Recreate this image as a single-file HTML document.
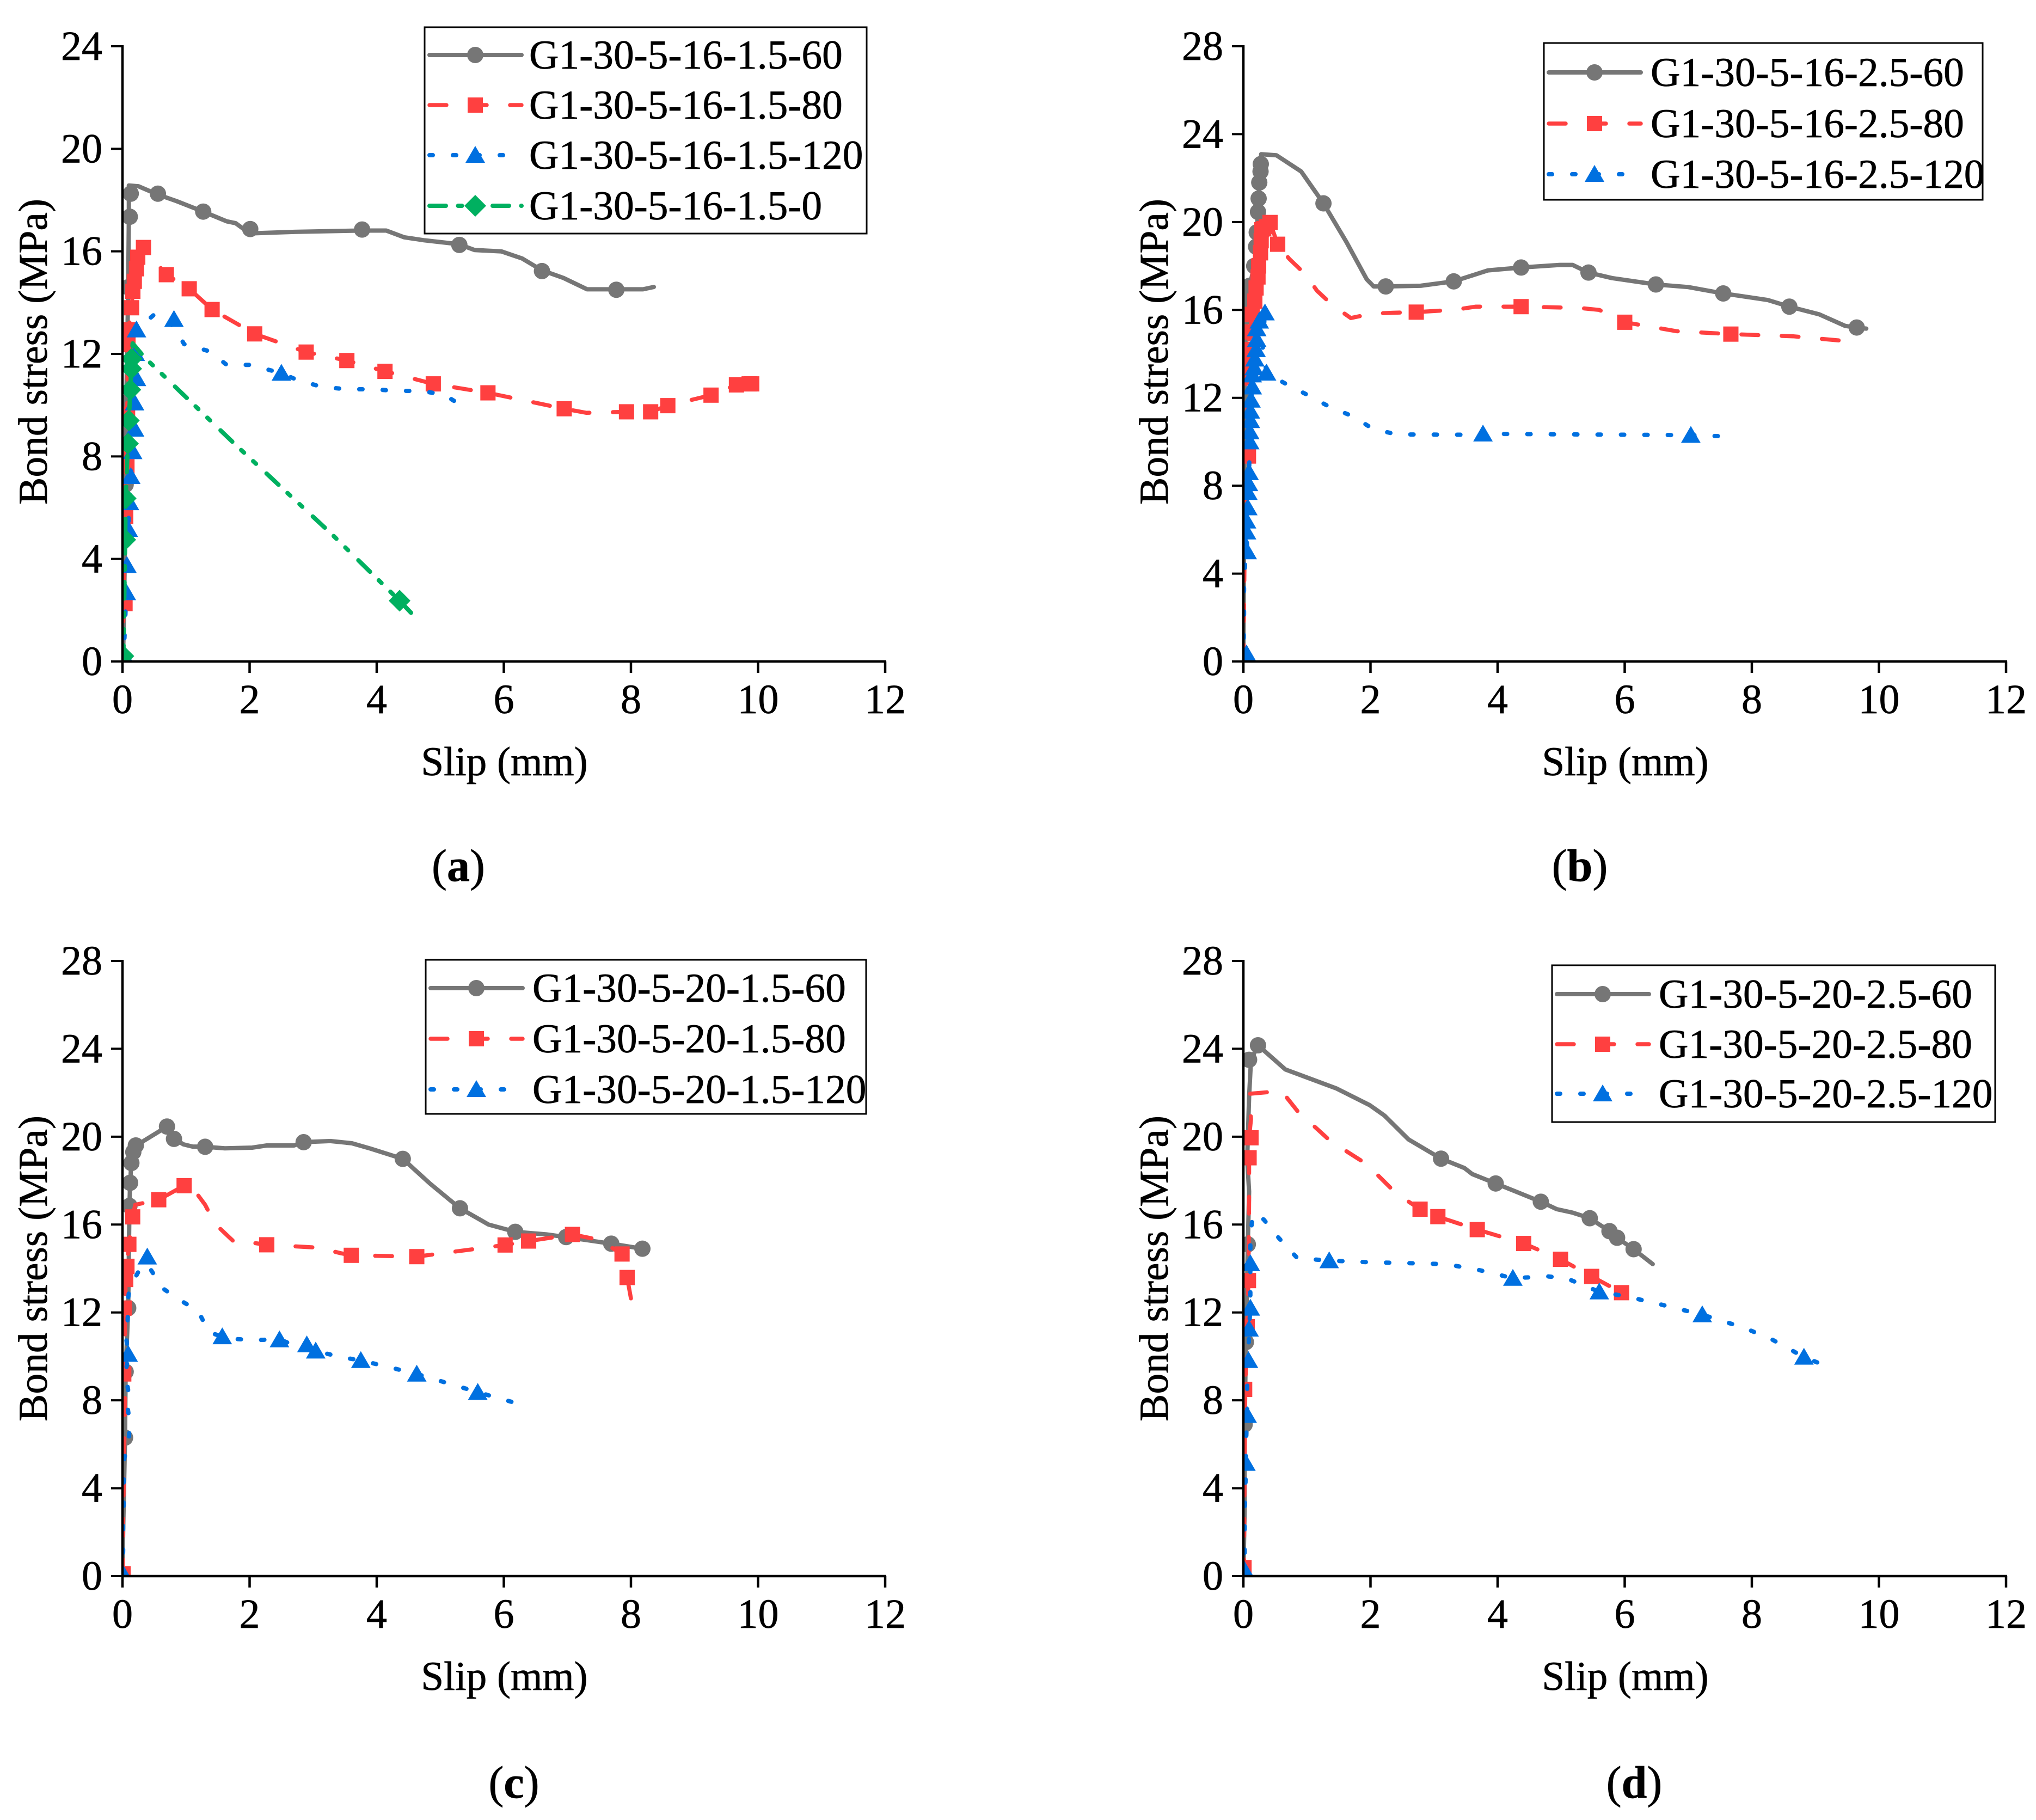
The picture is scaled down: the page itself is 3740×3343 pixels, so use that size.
<!DOCTYPE html>
<html lang="en">
<head>
<meta charset="utf-8">
<title>Bond stress versus slip curves</title>
<style>
html,body{margin:0;padding:0;background:#fff;}
body{width:3740px;height:3343px;overflow:hidden;}
svg{display:block;font-family:"Liberation Serif",serif;fill:#000;}
svg text{stroke:#000;stroke-width:0.7px;}
</style>
</head>
<body>
<svg id="figure" xmlns="http://www.w3.org/2000/svg" width="3740" height="3343" viewBox="0 0 3740 3343"></svg>
<script>
// ---------- tick labels ----------
const slipTicks = [0, 2, 4, 6, 8, 10, 12];
const stressTicksA = [0, 4, 8, 12, 16, 20, 24];
const stressTicksB = [0, 4, 8, 12, 16, 20, 24, 28];

// ---------- panel (a) ----------
const aGrayLineX = [0,0.01,0.03,0.05,0.06,0.09,0.1,0.1,0.25,0.55,0.85,1.27,1.64,1.78,2,2.71,3.75,4.15,4.43,4.75,5.29,5.54,5.96,6.29,6.6,6.94,7.31,7.77,8.19,8.36];
const aGrayLineY = [0,0.2,3,6.9,10.1,14.6,17.35,18.57,18.54,18.22,17.96,17.55,17.17,17.1,16.7,16.76,16.81,16.81,16.55,16.43,16.28,16.05,16,15.72,15.26,14.96,14.52,14.52,14.52,14.61];
const aGrayMarkX = [0.05,0.06,0.09,0.115,0.13,0.557,1.27,2.01,3.77,5.3,6.6,7.77];
const aGrayMarkY = [6.9,10.1,14.6,17.35,18.25,18.25,17.55,16.87,16.85,16.25,15.23,14.5];

const aRedLineX = [0,0.02,0.04,0.05,0.07,0.086,0.094,0.143,0.163,0.186,0.22,0.24,0.33,0.69,1.05,1.41,2.08,2.89,3.53,4.13,4.89,5.75,6.95,7.3,7.93,8.31,8.58,9.26,9.66,9.86,9.95];
const aRedLineY = [0,2.26,5.66,7.6,9.65,12.36,12.94,13.8,14.44,14.83,15.32,15.77,16.15,15.09,14.54,13.73,12.78,12.07,11.74,11.32,10.83,10.48,9.86,9.7,9.74,9.74,9.98,10.39,10.79,10.83,10.8];
const aRedMarkX = [0.04,0.05,0.07,0.08,0.086,0.094,0.143,0.163,0.186,0.22,0.24,0.33,0.69,1.05,1.41,2.08,2.89,3.53,4.13,4.89,5.75,6.95,7.93,8.31,8.58,9.26,9.66,9.86,9.9];
const aRedMarkY = [2.26,5.66,7.6,9.65,12.36,12.94,13.8,14.44,14.83,15.32,15.77,16.15,15.09,14.54,13.73,12.78,12.07,11.74,11.32,10.83,10.48,9.86,9.74,9.74,9.98,10.39,10.79,10.83,10.83];

const aBlueLineX = [0,0.02,0.06,0.07,0.09,0.11,0.13,0.16,0.19,0.19,0.22,0.2,0.22,0.53,0.81,0.97,1.37,1.64,2,2.5,2.76,3.13,3.52,3.92,4.31,4.7,5.05,5.42];
const aBlueLineY = [0,0.23,2.69,3.75,5.16,6.2,7.22,8.19,9.07,10.09,11.04,12.02,12.94,13.6,13.05,12.38,12.1,11.57,11.57,11.25,10.97,10.72,10.62,10.62,10.56,10.55,10.42,9.86];
const aBlueMarkX = [0.02,0.06,0.07,0.09,0.11,0.13,0.16,0.19,0.19,0.22,0.2,0.22,0.81,2.5];
const aBlueMarkY = [0.23,2.69,3.75,5.16,6.2,7.22,8.19,9.07,10.09,11.04,12.02,12.94,13.35,11.25];

const aGreenLineX = [0,0.014,0.043,0.05,0.086,0.1,0.123,0.137,0.143,0.16,0.34,1.78,3.27,4.36,4.54];
const aGreenLineY = [0,0.21,4.75,6.36,8.5,9.4,10.6,11.42,11.81,12.41,11.88,8.45,5.02,2.37,1.9];
const aGreenMarkX = [0.014,0.043,0.05,0.086,0.1,0.123,0.137,0.143,4.36];
const aGreenMarkY = [0.21,4.75,6.36,8.5,9.4,10.6,11.42,11.81,2.37];

// ---------- panel (b) ----------
const bGrayLineX = [0,0.02,0.02,0.03,0.04,0.05,0.1,0.17,0.2,0.21,0.23,0.24,0.25,0.274,0.28,0.52,0.91,1.26,1.62,1.94,2.05,2.24,2.79,3.31,3.85,4.37,4.98,5.18,5.43,5.8,6.49,7,7.55,7.84,8.25,8.59,9.06,9.47,9.65,9.8];
const bGrayLineY = [0,10,12,14,15.7,16.87,17.1,18,18.88,19.53,20.46,21.07,21.8,22.64,23.09,23.04,22.3,20.85,19.1,17.4,17.07,17.07,17.1,17.3,17.8,17.93,18.05,18.05,17.7,17.45,17.16,17.04,16.75,16.63,16.45,16.15,15.8,15.27,15.2,15.15];
const bGrayMarkX = [0.02,0.03,0.04,0.05,0.1,0.17,0.2,0.21,0.23,0.24,0.25,0.27,0.274,1.26,2.24,3.31,4.37,5.43,6.49,7.55,8.59,9.65];
const bGrayMarkY = [12,14,15.7,16.87,17.1,18,18.88,19.53,20.46,21.07,21.8,22.3,22.64,20.85,17.07,17.3,17.93,17.7,17.16,16.75,16.15,15.2];

const bRedLineX = [0,0.02,0.05,0.08,0.05,0.05,0.07,0.1,0.14,0.18,0.2,0.23,0.24,0.27,0.28,0.29,0.42,0.54,0.72,0.965,1.16,1.41,1.69,2.02,2.35,2.72,3.01,3.36,3.66,4.37,5.29,5.6,6,6.82,7.67,8.65,9.57];
const bRedLineY = [0,5,9,9.35,12.9,13.7,14.2,15,15.8,16.4,17,17.5,18,18.6,19.15,19.65,19.98,18.99,18.33,17.65,16.87,16.2,15.63,15.83,15.87,15.9,15.95,16.02,16.15,16.15,16.09,16,15.44,15.03,14.9,14.8,14.56];
const bRedMarkX = [0.08,0.05,0.05,0.07,0.1,0.14,0.18,0.2,0.23,0.24,0.27,0.28,0.29,0.32,0.36,0.42,0.54,2.72,4.37,6,7.67];
const bRedMarkY = [9.35,12.9,13.7,14.2,15,15.8,16.4,17,17.5,18,18.6,19.15,19.65,19.7,19.8,19.98,18.99,15.9,16.15,15.44,14.9];

const bBlueLineX = [0,0.01,0.01,0.05,0.06,0.05,0.05,0.07,0.07,0.08,0.09,0.1,0.1,0.11,0.11,0.12,0.14,0.14,0.17,0.18,0.2,0.21,0.21,0.25,0.34,0.3,0.365,0.665,0.99,1.35,1.72,2.03,2.41,2.81,3.2,3.59,3.82,7.04,7.63];
const bBlueLineY = [0,1.8,3.4,5.9,5,6.4,5.9,7,7.7,8.1,8.6,10,10.46,10.97,11.4,11.9,12.5,13.05,13.37,13.77,14.2,14.66,15.15,15.5,15.87,14.4,13.13,12.64,12.16,11.6,11.16,10.6,10.33,10.33,10.32,10.32,10.36,10.3,10.24];
const bBlueMarkX = [0.05,0.06,0.05,0.05,0.07,0.07,0.08,0.09,0.1,0.1,0.11,0.11,0.12,0.14,0.14,0.17,0.18,0.2,0.21,0.21,0.25,0.34,0.365,3.77,7.04];
const bBlueMarkY = [0.35,5,5.9,6.4,7,7.7,8.1,8.6,10,10.46,10.97,11.4,11.9,12.5,13.05,13.37,13.77,14.2,14.66,15.15,15.5,15.87,13.13,10.36,10.3];

// ---------- panel (c) ----------
const cGrayLineX = [0,0.01,0.04,0.05,0.09,0.11,0.12,0.14,0.17,0.21,0.33,0.61,0.7,0.81,0.96,1.1,1.3,1.61,2.04,2.27,2.7,2.85,3.27,3.61,3.9,4.41,4.84,5.31,5.76,6.18,6.67,6.98,7.69,8.18];
const cGrayLineY = [0,2,6.3,9.3,12.2,16.85,17.9,18.8,19.3,19.6,19.8,20.3,20.46,19.9,19.65,19.55,19.54,19.47,19.5,19.6,19.6,19.75,19.8,19.7,19.46,18.99,17.86,16.74,16,15.67,15.55,15.43,15.13,14.9];
const cGrayMarkX = [0.04,0.05,0.09,0.11,0.12,0.14,0.17,0.21,0.7,0.81,1.3,2.85,4.41,5.31,6.18,6.98,7.69,8.18];
const cGrayMarkY = [6.3,9.3,12.2,16.85,17.9,18.8,19.3,19.6,20.46,19.9,19.54,19.75,18.99,16.74,15.67,15.43,15.13,14.9];

const cRedLineX = [0,0.01,0.03,0.04,0.04,0.05,0.07,0.1,0.16,0.2,0.57,0.97,1.12,1.3,1.45,1.76,2.1,2.27,2.76,3.08,3.43,3.6,4.63,6.02,6.39,7.08,7.5,7.86,7.94,8];
const cRedLineY = [0,2.4,6.2,8,11.7,13.5,14.1,15.1,16.35,16.9,17.13,17.77,17.6,16.9,16.05,15.2,15.15,15.08,15,14.95,14.7,14.6,14.54,15.07,15.25,15.55,15.3,14.66,13.59,12.64];
const cRedMarkX = [0.01,0.02,0.03,0.05,0.07,0.1,0.16,0.57,0.97,2.27,3.6,4.63,6.02,6.39,7.08,7.86,7.94];
const cRedMarkY = [0.1,9.2,12.2,13.5,14.1,15.1,16.35,17.13,17.77,15.08,14.6,14.54,15.07,15.25,15.55,14.66,13.59];

const cBlueLineX = [0,0.01,0.01,0.02,0.02,0.03,0.1,0.11,0.07,0.1,0.05,0.09,0.06,0.08,0.09,0.11,0.27,0.39,0.63,0.94,1.19,1.36,1.57,1.73,2.08,2.47,2.76,2.9,3.04,3.44,3.75,4.63,5.59,6.16];
const cBlueLineY = [0,1.2,2.3,3.4,4.5,5.4,6,7.1,7.87,8.25,9.2,10.1,10.8,11.5,12.65,13.1,13.96,14.2,13.1,12.5,12.07,11.1,10.9,10.8,10.74,10.78,10.43,10.53,10.25,9.96,9.82,9.2,8.37,7.9];
const cBlueMarkX = [0.01,0.09,0.39,1.57,2.47,2.9,3.04,3.75,4.63,5.59];
const cBlueMarkY = [0.1,10.1,14.53,10.9,10.76,10.53,10.25,9.82,9.2,8.37];

// ---------- panel (d) ----------
const dGrayLineX = [0,0.02,0.02,0.04,0.07,0.09,0.06,0.09,0.12,0.23,0.66,1.46,1.99,2.22,2.6,3.11,3.48,3.6,3.97,4.68,4.93,5.17,5.45,5.76,5.88,6.14,6.44];
const dGrayLineY = [0,3,6.9,10.65,15.1,17.5,19,21.8,23.5,24.16,23.06,22.2,21.43,20.96,19.87,19,18.57,18.3,17.87,17.04,16.7,16.55,16.29,15.7,15.4,14.88,14.2];
const dGrayMarkX = [0.02,0.04,0.07,0.09,0.23,3.11,3.97,4.68,5.45,5.76,5.88,6.14];
const dGrayMarkY = [6.9,10.65,15.1,23.5,24.16,19,17.87,17.04,16.29,15.7,15.4,14.88];

const dRedLineX = [0,0.01,0.02,0.03,0.06,0.08,0.09,0.09,0.09,0.12,0.09,0.6,0.85,1.37,1.94,2.41,2.78,3.06,3.68,4.41,4.99,5.48,5.95];
const dRedLineY = [0,0.39,5,8.5,11.35,13.45,17.1,19.04,19.95,20.8,21.95,22.08,21.17,19.8,18.75,17.4,16.7,16.36,15.77,15.14,14.42,13.64,12.9];
const dRedMarkX = [0.01,0.02,0.06,0.08,0.09,0.12,5.95,2.78,3.06,3.68,4.41,4.99,5.48];
const dRedMarkY = [0.39,8.5,11.35,13.45,19.04,19.95,12.9,16.7,16.36,15.77,15.14,14.42,13.64];

const dBlueLineX = [0,0.02,0.02,0.04,0.04,0.06,0.06,0.08,0.09,0.11,0.11,0.11,0.15,0.32,0.56,0.85,1.35,1.94,3.17,3.65,4.24,4.79,5.08,5.6,6.03,6.5,7.22,7.88,8.31,8.82,9.05];
const dBlueLineY = [0,0.26,2.6,5.14,6,7.32,9.35,9.82,11.25,12.2,14.23,15.45,16.49,16.23,15.38,14.47,14.36,14.29,14.2,13.97,13.56,13.64,13.56,12.94,12.73,12.41,11.9,11.3,10.78,9.97,9.7];
const dBlueMarkX = [0.02,0.04,0.06,0.08,0.09,0.11,0.11,1.35,4.24,5.6,7.22,8.82];
const dBlueMarkY = [0.26,5.14,7.32,9.82,11.25,12.2,14.23,14.36,13.56,12.94,11.9,9.97];

// ---------- series styling ----------
const GRAY = {color:'#767676', width:8, dash:'', marker:'circle', key:'gray'};
const RED = {color:'#ff4040', width:7.5, dash:'31 43', marker:'square', key:'red'};
const BLUE = {color:'#0070e0', width:8, dash:'6 37', marker:'triangle', key:'blue'};
const GREEN = {color:'#00b060', width:8, dash:'30 22.5 7 23 7 26.5', marker:'diamond', key:'green'};

const panels = [
  {id:'a', left:225, bottom:1215, yMax:24, yTicks:stressTicksA, capX:842, capY:1618, titleShift:-4,
   legend:{x:780, y:50, w:812, h:379, textDx:192, rowYs:[101,193,285,378]},
   series:[
    {name:'G1-30-5-16-1.5-60', s:GRAY, lx:aGrayLineX, ly:aGrayLineY, mx:aGrayMarkX, my:aGrayMarkY},
    {name:'G1-30-5-16-1.5-80', s:RED, lx:aRedLineX, ly:aRedLineY, mx:aRedMarkX, my:aRedMarkY},
    {name:'G1-30-5-16-1.5-120', s:BLUE, lx:aBlueLineX, ly:aBlueLineY, mx:aBlueMarkX, my:aBlueMarkY},
    {name:'G1-30-5-16-1.5-0', s:GREEN, lx:aGreenLineX, ly:aGreenLineY, mx:aGreenMarkX, my:aGreenMarkY}]},
  {id:'b', left:2284, bottom:1215, yMax:28, yTicks:stressTicksB, capX:2902, capY:1618, titleShift:-4,
   legend:{x:2836, y:79, w:806, h:288, textDx:196, rowYs:[133,227,320]},
   series:[
    {name:'G1-30-5-16-2.5-60', s:GRAY, lx:bGrayLineX, ly:bGrayLineY, mx:bGrayMarkX, my:bGrayMarkY},
    {name:'G1-30-5-16-2.5-80', s:RED, lx:bRedLineX, ly:bRedLineY, mx:bRedMarkX, my:bRedMarkY},
    {name:'G1-30-5-16-2.5-120', s:BLUE, lx:bBlueLineX, ly:bBlueLineY, mx:bBlueMarkX, my:bBlueMarkY}]},
  {id:'c', left:225, bottom:2895, yMax:28, yTicks:stressTicksB, capX:944, capY:3302, titleShift:0,
   legend:{x:782, y:1763, w:809, h:283, textDx:196, rowYs:[1815,1908,2001]},
   series:[
    {name:'G1-30-5-20-1.5-60', s:GRAY, lx:cGrayLineX, ly:cGrayLineY, mx:cGrayMarkX, my:cGrayMarkY},
    {name:'G1-30-5-20-1.5-80', s:RED, lx:cRedLineX, ly:cRedLineY, mx:cRedMarkX, my:cRedMarkY},
    {name:'G1-30-5-20-1.5-120', s:BLUE, lx:cBlueLineX, ly:cBlueLineY, mx:cBlueMarkX, my:cBlueMarkY}]},
  {id:'d', left:2284, bottom:2895, yMax:28, yTicks:stressTicksB, capX:3002, capY:3302, titleShift:0,
   legend:{x:2851, y:1773, w:814, h:288, textDx:196, rowYs:[1826,1918,2009]},
   series:[
    {name:'G1-30-5-20-2.5-60', s:GRAY, lx:dGrayLineX, ly:dGrayLineY, mx:dGrayMarkX, my:dGrayMarkY},
    {name:'G1-30-5-20-2.5-80', s:RED, lx:dRedLineX, ly:dRedLineY, mx:dRedMarkX, my:dRedMarkY},
    {name:'G1-30-5-20-2.5-120', s:BLUE, lx:dBlueLineX, ly:dBlueLineY, mx:dBlueMarkX, my:dBlueMarkY}]}
];

const NS = 'http://www.w3.org/2000/svg';
const figure = document.getElementById('figure');
const PLOT_W = 1401, PLOT_H = 1130, X_MAX = 12;

function make(tag, parent, attrs) {
  const el = document.createElementNS(NS, tag);
  for (const k in attrs) el.setAttribute(k, attrs[k]);
  parent.appendChild(el);
  return el;
}

function drawMarker(parent, shape, color, cx, cy) {
  let el;
  if (shape === 'circle') {
    el = make('circle', parent, {cx:cx, cy:cy, r:15, fill:color});
  } else if (shape === 'square') {
    el = make('rect', parent, {x:cx-14, y:cy-14, width:28, height:28, fill:color});
  } else if (shape === 'triangle') {
    el = make('polygon', parent, {points:`${cx},${cy-17} ${cx+18},${cy+14} ${cx-18},${cy+14}`, fill:color});
  } else {
    el = make('polygon', parent, {points:`${cx},${cy-20} ${cx+20},${cy} ${cx},${cy+20} ${cx-20},${cy}`, fill:color});
  }
  return el;
}

function drawLine(parent, points, s) {
  const el = make('polyline', parent, {points:points, fill:'none', stroke:s.color, 'stroke-width':s.width,
    'stroke-linecap':'round', 'stroke-linejoin':'round'});
  if (s.dash) el.setAttribute('stroke-dasharray', s.dash);
  return el;
}

panels.forEach(function (p) {
  const sx = v => p.left + v / X_MAX * PLOT_W;
  const sy = v => p.bottom - v / p.yMax * PLOT_H;
  const top = p.bottom - PLOT_H, right = p.left + PLOT_W;

  const g = make('g', figure, {});
  
  

  const clip = make('clipPath', g, {id:'clip-' + p.id});
  make('rect', clip, {x:p.left, y:top - 40, width:PLOT_W + 40, height:PLOT_H + 40});

  // series
  const plot = make('g', g, {'clip-path':'url(#clip-' + p.id + ')'});
  
  
  p.series.forEach(function (ser) {
    const sg = make('g', plot, {});
    
    
    const pts = ser.lx.map((x, i) => sx(x).toFixed(1) + ',' + sy(ser.ly[i]).toFixed(1)).join(' ');
    const line = drawLine(sg, pts, ser.s);
    
    
    ser.mx.forEach(function (x, i) {
      const m = drawMarker(sg, ser.s.marker, ser.s.color, sx(x), sy(ser.my[i]));
      
      
    });
  });

  // axes
  const yAxis = make('line', g, {x1:p.left, x2:p.left, y1:top - 2, y2:p.bottom + 2, stroke:'#000', 'stroke-width':4.5});
  
  
  const xAxis = make('line', g, {x1:p.left - 2, x2:right + 2, y1:p.bottom, y2:p.bottom, stroke:'#000', 'stroke-width':4.5});
  
  

  p.yTicks.forEach(function (t) {
    const tick = make('line', g, {x1:p.left - 21, x2:p.left, y1:sy(t), y2:sy(t), stroke:'#000', 'stroke-width':4});
    
    
    const lab = make('text', g, {x:p.left - 37, y:sy(t) + 25, 'font-size':76, 'text-anchor':'end'});
    lab.textContent = t;
    
    
  });
  slipTicks.forEach(function (t) {
    const tick = make('line', g, {x1:sx(t), x2:sx(t), y1:p.bottom, y2:p.bottom + 21, stroke:'#000', 'stroke-width':4.5});
    
    
    const lab = make('text', g, {x:sx(t), y:p.bottom + 95, 'font-size':76, 'text-anchor':'middle'});
    lab.textContent = t;
    
    
  });

  const xTitle = make('text', g, {x:p.left + PLOT_W / 2 + 1, y:p.bottom + 209, 'font-size':75, 'text-anchor':'middle'});
  xTitle.textContent = 'Slip (mm)';
  
  

  const yx = p.left - 139, yy = p.bottom - PLOT_H / 2 + p.titleShift;
  const yTitle = make('text', g, {x:yx, y:yy, 'font-size':75.5, 'text-anchor':'middle', transform:`rotate(-90 ${yx} ${yy})`});
  yTitle.textContent = 'Bond stress (MPa)';
  
  

  // legend
  const L = p.legend;
  const lg = make('g', g, {});
  
  
  const box = make('rect', lg, {x:L.x, y:L.y, width:L.w, height:L.h, fill:'#fff', stroke:'#000', 'stroke-width':3});
  
  
  p.series.forEach(function (ser, i) {
    const ly = L.rowYs[i], lx0 = L.x + 9, lx1 = L.x + 178, lmx = L.x + 93;
    const entry = make('g', lg, {});
    
    
    const sample = drawLine(entry, `${lx0},${ly} ${lx1},${ly}`, ser.s);
    
    
    const mark = drawMarker(entry, ser.s.marker, ser.s.color, lmx, ly);
    
    
    const t = make('text', entry, {x:L.x + L.textDx, y:ly + 25, 'font-size':75.4});
    t.textContent = ser.name;
    
    
  });

  // caption
  const cap = make('text', g, {x:p.capX, y:p.capY, 'font-size':84, 'text-anchor':'middle'});
  
  
  make('tspan', cap, {}).textContent = '(';
  make('tspan', cap, {'font-weight':'bold'}).textContent = p.id;
  make('tspan', cap, {}).textContent = ')';
});
</script>
</body>
</html>
